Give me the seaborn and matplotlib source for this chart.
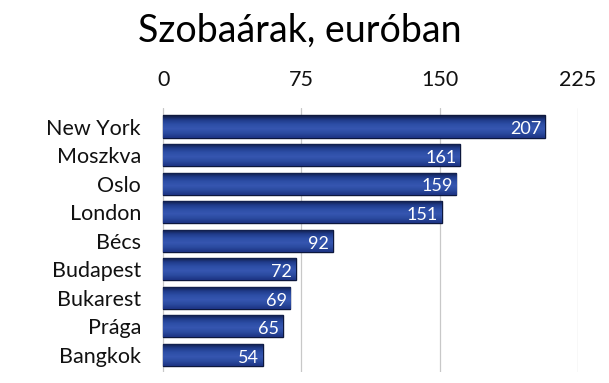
import matplotlib
matplotlib.use("Agg")
import matplotlib.pyplot as plt
import seaborn as sns
import pandas as pd
import numpy as np
from matplotlib.colors import LinearSegmentedColormap

cities = ["New York", "Moszkva", "Oslo", "London", "Bécs", "Budapest", "Bukarest", "Prága", "Bangkok"]
prices = [207, 161, 159, 151, 92, 72, 69, 65, 54]
ticks = [0, 75, 150, 225]
title = "Szobaárak, euróban"

sns.set_theme(style="white")
plt.rcParams['font.family'] = ['Lato', 'DejaVu Sans']

df = pd.DataFrame({"city": cities, "price": prices})

fig = plt.figure(figsize=(6.09, 3.83), dpi=100)
ax = fig.add_axes([152/609, 1 - 372/383, (578-152)/609, (372-108)/383])

sns.barplot(data=df, y="city", x="price", orient="h", color="#2b4c9e",
            width=0.78, edgecolor="#0c173d", linewidth=1.0, ax=ax, saturation=1)

ax.set_xlim(-6, 225)
ax.set_ylim(8.6, -0.65)

# bar shading: vertical gradient clipped to each bar
cmap = LinearSegmentedColormap.from_list(
    "barshade", ["#0e1738", "#1f3a88", "#2d4ea6", "#3656b0", "#2a4a9f", "#1c3382"])
grad = np.linspace(0, 1, 64).reshape(-1, 1)
for p in ax.patches:
    x0, y0 = p.get_x(), p.get_y()
    w, h = p.get_width(), p.get_height()
    im = ax.imshow(grad, cmap=cmap, aspect="auto", origin="upper",
                   extent=[x0, x0 + w, y0 + h, y0], zorder=p.get_zorder() + 0.1,
                   interpolation="bilinear")
    im.set_clip_path(p)
ax.set_xlim(-6, 225)
ax.set_ylim(8.6, -0.65)
ax.set_aspect("auto")

ax.set_xticks(ticks)
ax.set_xticklabels([str(t) for t in ticks], fontsize=15.5, color="#111111")
ax.xaxis.tick_top()
ax.tick_params(axis="x", length=0, pad=13)
ax.tick_params(axis="y", length=0, pad=8)
ax.set_yticks(range(len(cities)))
ax.set_yticklabels(cities, fontsize=15.5, color="#111111")
ax.set_xlabel("")
ax.set_ylabel("")
for s in ax.spines.values():
    s.set_visible(False)
for t in ticks:
    ax.axvline(t, color="#c8c8c8", lw=0.9, zorder=0)

for i, v in enumerate(prices):
    ax.text(v - 2, i + 0.1, str(v), ha="right", va="center", color="white",
            fontsize=13, zorder=10)

fig.text(300/609, 1 - 31/383, title, ha="center", va="center", fontsize=27, color="#000000")

fig.savefig("out.png", dpi=100)
